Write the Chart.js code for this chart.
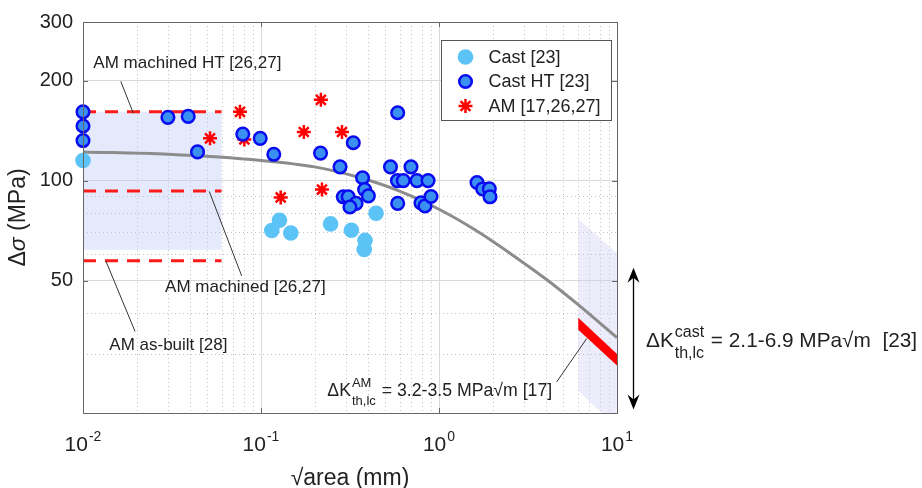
<!DOCTYPE html>
<html>
<head>
<meta charset="utf-8">
<script src="https://cdn.jsdelivr.net/npm/chart.js@4.4.1/dist/chart.umd.min.js"></script>
<style>
  html, body { margin: 0; padding: 0; background: #fff; }
</style>
</head>
<body>
<canvas id="chart" width="922" height="488"></canvas>
<script>
// values: x = sqrt(area) in mm, y = stress range in MPa
const castX = [0.01, 0.127, 0.115, 0.147, 0.246, 0.322, 0.384, 0.380, 0.443];
const castY = [115, 76, 70.8, 69.6, 74.1, 70.9, 66.1, 62.1, 79.8];

const castHtX = [0.01, 0.01, 0.01, 0.030, 0.039, 0.044, 0.079, 0.099, 0.118, 0.216, 0.330, 0.586,
  0.278, 0.534, 0.696, 0.372, 0.584, 0.630, 0.752, 0.868, 0.382, 0.401, 0.290, 0.309, 0.342,
  0.316, 0.586, 0.792, 0.834, 0.902, 1.635, 1.760, 1.917, 1.934];
const castHtY = [161, 146, 132, 155, 156, 122, 138, 134, 120, 121, 130, 160,
  110, 110, 110, 102, 100, 100, 100, 100, 94, 90, 89.4, 89.4, 85.4,
  83.3, 85.4, 85.7, 83.9, 89.6, 98.7, 94.4, 94.5, 89.4];

const amX = [0.0517, 0.0762, 0.0806, 0.217, 0.174, 0.285, 0.129, 0.220];
const amY = [134, 161, 133, 175, 140, 140, 89, 94];

// grey trend curve, read at a few points along it
const curveX = [0.01, 0.03, 0.1, 0.2, 0.35, 0.6, 1, 1.6, 2.5, 4, 6, 10];
const curveY = [122, 120, 115, 110, 102.5, 93, 82, 71, 60.5, 50.5, 42.5, 33.7];

// AM levels from the literature (dashed) and the shaded AM range
const amLevelX = [0.01, 0.06];
const amLevels = [161, 93, 57.4];
const amRangeTop = [161, 161];
const amRangeBottom = [62, 62];

// threshold bands for large defects
const bandX = [6.06, 10];
const castBandTop = [76.7, 60.5];
const castBandBottom = [23.3, 18.1];
const amBandTop = [38.7, 30.1];
const amBandBottom = [35.6, 27.8];

const legendLabels = ['Cast [23]', 'Cast HT [23]', 'AM [17,26,27]'];
const xTicks = [0.01, 0.1, 1, 10];
const xTickExp = ['-2', '-1', '0', '1'];
const yTicks = [50, 100, 200, 300];
const yTickLabels = ['50', '100', '200', '300'];

// annotations, in data coordinates
const notes = [
  { text: 'AM machined HT [26,27]', at: [0.01143, 218.7], leader: [[0.0163, 198.9], [0.01917, 159.5]] },
  { text: 'AM machined [26,27]', at: [0.0289, 46.2], leader: [[0.0512, 92.8], [0.0779, 51.7]] },
  { text: 'AM as-built [28]', at: [0.01405, 30.9], leader: [[0.01346, 57.2], [0.0196, 35.2]] }
];
const kAmNote = { at: [0.2358, 22.5], size: 17.7, parts: ['\u0394K', { sup: 'AM', sub: 'th,lc' }, ' = 3.2-3.5 MPa\u221Am [17]'],
  leader: [[4.58, 24.8], [6.76, 33.5]] };
const kCastNote = { at: [14.55, 31.5], size: 20.8, parts: ['\u0394K', { sup: 'cast', sub: 'th,lc' }, ' = 2.1-6.9 MPa\u221Am  [23]'] };
const arrowRange = [54.7, 20.5];

const FONT = '"Liberation Sans", Arial, Helvetica, sans-serif';
Chart.defaults.font.family = FONT;

const styles = [
  { pointStyle: 'circle', radius: 7.8, borderWidth: 0, fill: '#5bc3f5', stroke: '#5bc3f5' },
  { pointStyle: 'circle', radius: 6.3, borderWidth: 2.5, fill: '#3a90f0', stroke: '#0a0af0' },
  { pointStyle: 'star', radius: 7, borderWidth: 2.5, fill: 'transparent', stroke: '#ff0000' }
];

const pts = (xs, ys) => xs.map((x, i) => ({ x: x, y: ys[i] }));
const poly = (xs, top, bottom) => [
  { x: xs[0], y: top[0] }, { x: xs[1], y: top[1] },
  { x: xs[1], y: bottom[1] }, { x: xs[0], y: bottom[0] }, { x: xs[0], y: top[0] }
];

const scatterSet = (label, data, st, order) => ({
  label: label, data: data, order: order, clip: false, showLine: false,
  pointStyle: st.pointStyle, pointRadius: st.radius, pointBorderWidth: st.borderWidth,
  pointBackgroundColor: st.fill, pointBorderColor: st.stroke
});
const dashedSet = v => ({
  data: pts(amLevelX, [v, v]), order: 3, showLine: true, pointRadius: 0,
  borderColor: '#ff1a1a', borderWidth: 3, borderDash: [13, 9], fill: false
});
const shapeSet = (data, color, order) => ({
  data: data, order: order, showLine: true, pointRadius: 0, borderWidth: 0,
  borderColor: color, backgroundColor: color, fill: 'shape', tension: 0
});

function drawRich(ctx, x, y, size, parts) {
  ctx.textAlign = 'left';
  ctx.textBaseline = 'alphabetic';
  let cx = x;
  parts.forEach(p => {
    if (typeof p === 'string') {
      ctx.font = size + 'px ' + FONT;
      ctx.fillText(p, cx, y);
      cx += ctx.measureText(p).width;
    } else {
      const s = Math.round(size * 0.76);
      ctx.font = s + 'px ' + FONT;
      const w = Math.max(ctx.measureText(p.sup).width, ctx.measureText(p.sub).width);
      ctx.fillText(p.sup, cx + 1, y - size * 0.5);
      ctx.fillText(p.sub, cx + 1, y + size * 0.5);
      cx += w + 2;
    }
  });
}

function arrowHead(ctx, x, y, dir) {
  ctx.beginPath();
  ctx.moveTo(x, y);
  ctx.lineTo(x - 6, y - dir * 15);
  ctx.lineTo(x, y - dir * 10);
  ctx.lineTo(x + 6, y - dir * 15);
  ctx.closePath();
  ctx.fill();
}

const extras = {
  id: 'extras',
  beforeDatasetsDraw(chart) {
    const { ctx, chartArea: a, scales: { x, y } } = chart;
    ctx.save();
    ctx.strokeStyle = '#c4c4c4';
    ctx.lineWidth = 1;
    ctx.setLineDash([1, 3]);
    [0.01, 0.1, 1].forEach(d => {
      for (let m = 2; m <= 9; m++) {
        const px = Math.round(x.getPixelForValue(d * m)) + 0.5;
        ctx.beginPath(); ctx.moveTo(px, a.top); ctx.lineTo(px, a.bottom); ctx.stroke();
      }
    });
    [30, 40, 60, 70, 80, 90].forEach(v => {
      const py = Math.round(y.getPixelForValue(v)) + 0.5;
      ctx.beginPath(); ctx.moveTo(a.left, py); ctx.lineTo(a.right, py); ctx.stroke();
    });
    ctx.restore();
  },
  afterDraw(chart) {
    const { ctx, chartArea: a, scales: { x, y } } = chart;
    const P = (v) => [x.getPixelForValue(v[0]), y.getPixelForValue(v[1])];
    ctx.save();

    // axes box and inward ticks
    ctx.strokeStyle = '#666';
    ctx.lineWidth = 1;
    ctx.strokeRect(Math.round(a.left) + 0.5, Math.round(a.top) + 0.5,
      Math.round(a.right - a.left), Math.round(a.bottom - a.top));
    ctx.beginPath();
    xTicks.forEach(v => {
      const px = Math.round(x.getPixelForValue(v)) + 0.5;
      ctx.moveTo(px, a.bottom); ctx.lineTo(px, a.bottom - 5);
      ctx.moveTo(px, a.top); ctx.lineTo(px, a.top + 5);
    });
    yTicks.forEach(v => {
      const py = Math.round(y.getPixelForValue(v)) + 0.5;
      ctx.moveTo(a.left, py); ctx.lineTo(a.left + 5, py);
      ctx.moveTo(a.right, py); ctx.lineTo(a.right - 5, py);
    });
    ctx.stroke();

    // x tick labels as powers of ten
    ctx.fillStyle = '#222';
    ctx.textBaseline = 'alphabetic';
    ctx.textAlign = 'left';
    xTicks.forEach((v, i) => {
      ctx.font = '21px ' + FONT;
      const w1 = ctx.measureText('10').width;
      ctx.font = '14px ' + FONT;
      const w2 = ctx.measureText(xTickExp[i]).width;
      const x0 = x.getPixelForValue(v) - (w1 + w2 + 1) / 2;
      ctx.font = '21px ' + FONT;
      ctx.fillText('10', x0, a.bottom + 38);
      ctx.font = '14px ' + FONT;
      ctx.fillText(xTickExp[i], x0 + w1 + 1, a.bottom + 28);
    });

    // axis titles
    ctx.font = '23px ' + FONT;
    ctx.textAlign = 'center';
    ctx.fillText('\u221Aarea (mm)', (a.left + a.right) / 2, 485);
    ctx.save();
    ctx.translate(25, (a.top + a.bottom) / 2);
    ctx.rotate(-Math.PI / 2);
    ctx.textAlign = 'left';
    const tParts = [['\u0394', ''], ['\u03C3', 'italic '], [' (MPa)', '']];
    let tw = 0;
    tParts.forEach(p => { ctx.font = p[1] + '23px ' + FONT; tw += ctx.measureText(p[0]).width; });
    let tx = -tw / 2;
    tParts.forEach(p => { ctx.font = p[1] + '23px ' + FONT; ctx.fillText(p[0], tx, 0); tx += ctx.measureText(p[0]).width; });
    ctx.restore();

    // leader lines and notes
    ctx.strokeStyle = '#333';
    ctx.lineWidth = 1;
    ctx.beginPath();
    notes.concat([kAmNote]).forEach(n => {
      const p0 = P(n.leader[0]), p1 = P(n.leader[1]);
      ctx.moveTo(p0[0], p0[1]); ctx.lineTo(p1[0], p1[1]);
    });
    ctx.stroke();
    ctx.fillStyle = '#222';
    ctx.font = '17px ' + FONT;
    ctx.textAlign = 'left';
    notes.forEach(n => { const p = P(n.at); ctx.fillText(n.text, p[0], p[1]); });
    let p = P(kAmNote.at);
    drawRich(ctx, p[0], p[1], kAmNote.size, kAmNote.parts);
    p = P(kCastNote.at);
    drawRich(ctx, p[0], p[1], kCastNote.size, kCastNote.parts);

    // double arrow for the cast threshold range
    const ax = Math.round(a.right + 16) + 0.5;
    const ay0 = y.getPixelForValue(arrowRange[0]), ay1 = y.getPixelForValue(arrowRange[1]);
    ctx.strokeStyle = '#000';
    ctx.fillStyle = '#000';
    ctx.lineWidth = 1.3;
    ctx.beginPath(); ctx.moveTo(ax, ay0 + 8); ctx.lineTo(ax, ay1 - 8); ctx.stroke();
    arrowHead(ctx, ax, ay0, -1);
    arrowHead(ctx, ax, ay1, 1);

    // legend box
    const bw = 170, bh = 80;
    const bx = Math.round(a.right - 6 - bw) + 0.5, by = Math.round(a.top + 18) + 0.5;
    ctx.fillStyle = '#fff';
    ctx.fillRect(bx, by, bw, bh);
    ctx.strokeStyle = '#555';
    ctx.lineWidth = 1;
    ctx.strokeRect(bx, by, bw, bh);
    ctx.font = '18px ' + FONT;
    ctx.textBaseline = 'middle';
    ctx.textAlign = 'left';
    legendLabels.forEach((lab, i) => {
      const st = styles[i];
      const ly = by + 16.5 + i * 24.5;
      ctx.fillStyle = st.fill;
      ctx.strokeStyle = st.stroke;
      ctx.lineWidth = st.borderWidth;
      Chart.helpers.drawPoint(ctx, { pointStyle: st.pointStyle, radius: st.radius, rotation: 0, borderWidth: st.borderWidth }, bx + 24, ly);
      ctx.fillStyle = '#222';
      ctx.fillText(lab, bx + 47, ly + 1);
    });
    ctx.restore();
  }
};

new Chart(document.getElementById('chart'), {
  type: 'scatter',
  data: {
    datasets: [
      scatterSet(legendLabels[0], pts(castX, castY), styles[0], 1),
      scatterSet(legendLabels[1], pts(castHtX, castHtY), styles[1], 0),
      scatterSet(legendLabels[2], pts(amX, amY), styles[2], 2),
      dashedSet(amLevels[0]),
      dashedSet(amLevels[1]),
      dashedSet(amLevels[2]),
      { data: pts(curveX, curveY), order: 4, showLine: true, pointRadius: 0,
        borderColor: '#8c8c8c', borderWidth: 3, cubicInterpolationMode: 'monotone', fill: false },
      shapeSet(poly(bandX, amBandTop, amBandBottom), '#ff0000', 5),
      shapeSet(poly(amLevelX, amRangeTop, amRangeBottom), 'rgba(185,200,245,0.38)', 6),
      shapeSet(poly(bandX, castBandTop, castBandBottom), 'rgba(200,200,240,0.35)', 7)
    ]
  },
  options: {
    responsive: false,
    animation: false,
    layout: { padding: { top: 14, right: 305, left: 0, bottom: 0 } },
    plugins: { legend: { display: false }, tooltip: { enabled: false } },
    scales: {
      x: {
        type: 'logarithmic', min: 0.01, max: 10,
        afterBuildTicks: s => { s.ticks = xTicks.map(v => ({ value: v })); },
        afterFit: s => { s.height = 75; },
        ticks: { display: false },
        grid: { color: '#d9d9d9', lineWidth: 1, drawTicks: false },
        border: { display: false }
      },
      y: {
        type: 'logarithmic', min: 20, max: 300,
        afterBuildTicks: s => { s.ticks = yTicks.map(v => ({ value: v })); },
        afterFit: s => { s.width = 83; },
        ticks: { callback: (v, i) => yTickLabels[i], font: { size: 20 }, color: '#222', padding: 10 },
        grid: { color: '#d9d9d9', lineWidth: 1, drawTicks: false },
        border: { display: false }
      }
    }
  },
  plugins: [extras]
});
</script>
</body>
</html>
